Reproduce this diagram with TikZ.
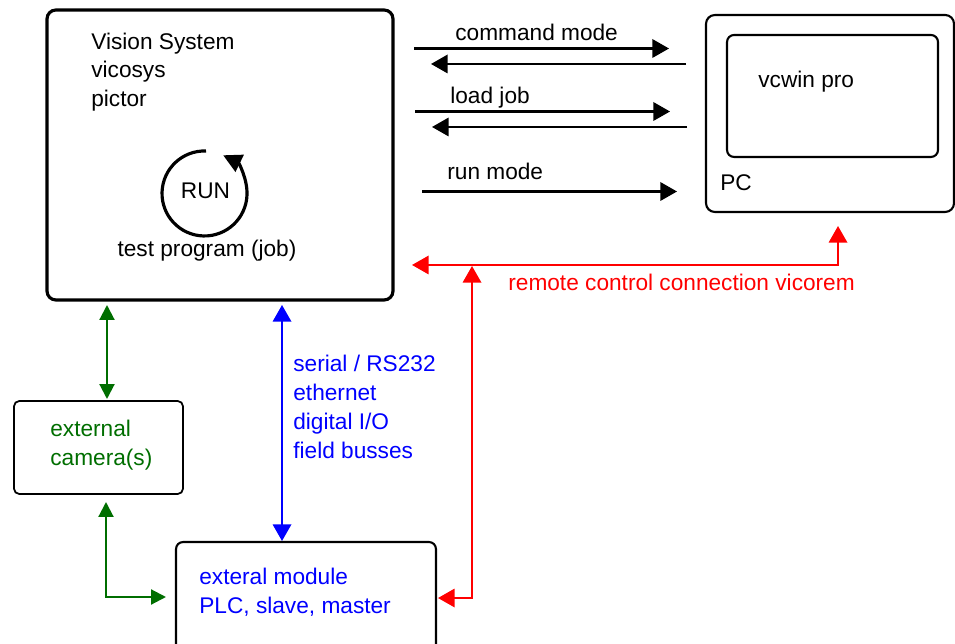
\documentclass[tikz,border=0pt]{standalone}
\usepackage{fontspec}
\setmainfont{Liberation Sans}
\usetikzlibrary{arrows.meta}
\definecolor{rcred}{RGB}{255,0,0}
\definecolor{ioblue}{RGB}{0,0,255}
\definecolor{camgreen}{RGB}{0,110,0}

\tikzset{
	box/.style={draw=black, line width=1.2pt, rounded corners=5pt, inner sep=0pt},
	lbl/.style={font=\fontsize{12.9pt}{16.4pt}\selectfont, inner sep=0pt, anchor=west, align=left},
	tip/.tip={Triangle[length=9.5pt, width=10.5pt]},
	smalltip/.tip={Triangle[length=8.5pt, width=8.5pt]},
	conn/.style={line width=1.2pt, -tip},
	both/.style={line width=1.2pt, tip-tip}
}

\begin{document}
\begin{tikzpicture}[x=0.02cm, y=-0.02cm]
			\useasboundingbox (0,0) rectangle (955,644);

			% Boxes
			\node[box, line width=1.8pt, minimum width=6.92cm, minimum height=5.8cm] (vis) at (220,155) {};
			\node[box, minimum width=4.96cm, minimum height=3.94cm] (pc) at (830,113.5) {};
			\node[box, rounded corners=4pt, minimum width=4.22cm, minimum height=2.44cm] (screen) at (832.5,96) {};
			\node[box, line width=1pt, rounded corners=3pt, minimum width=3.38cm, minimum height=1.86cm] (cam) at (98.5,447.5) {};
			\node[box, rounded corners=4pt, minimum width=5.2cm, minimum height=2.2cm] (module) at (306,597) {};

			% Texts in the boxes
			\node[lbl] (vistext) at (91,72) {Vision System\\vicosys\\pictor};
			\node[lbl, anchor=center] (run) at (205.5,191) {RUN};
			\node[lbl, anchor=center] (job) at (207,251) {test program (job)};
			\node[lbl] (vcwin) at (758,82) {vcwin pro};
			\node[lbl] (pctext) at (720,183) {PC};
			\node[lbl, camgreen] (camtext) at (50,445) {external\\camera(s)};
			\node[lbl, ioblue] (modtext) at (199,592) {exteral module\\PLC, slave, master};

			% RUN loop
			\draw[line width=1.8pt, -{Triangle[length=10.5pt, width=10.5pt]}] (206,151) arc[start angle=-88, end angle=-424, radius=42.5];

			% PC connection
			\coordinate (cm1) at (414,48.5);  \coordinate (cm2) at (669,48.5);
			\coordinate (cm3) at (686,64);    \coordinate (cm4) at (431,64);
			\coordinate (lj1) at (415,111.5); \coordinate (lj2) at (670,111.5);
			\coordinate (lj3) at (687,127);   \coordinate (lj4) at (432,127);
			\coordinate (rm1) at (422,191.5); \coordinate (rm2) at (677,191.5);
			\draw[conn] (cm1) -- (cm2);
			\draw[conn] (cm3) -- (cm4);
			\draw[conn] (lj1) -- (lj2);
			\draw[conn] (lj3) -- (lj4);
			\draw[conn] (rm1) -- (rm2);
			\node[lbl] (cmtext) at (455,32) {command mode};
			\node[lbl] (ljtext) at (450,98) {load job};
			\node[lbl] (rmtext) at (447,171) {run mode};

			% Remote control
			\coordinate (rcvis) at (412,265);
			\coordinate (rcpc) at (838,226);
			\coordinate (rcjoin) at (472,266);
			\coordinate (rcmod) at (438,598);
			\draw[both, rcred] (rcvis) -| (rcpc);
			\draw[both, rcred] (rcjoin) |- (rcmod);
			\node[lbl, rcred] (rctext) at (508,282) {remote control connection vicorem};

			% Interfaces
			\coordinate (iotop) at (282,305);
			\coordinate (iobot) at (282,541);
			\draw[both, ioblue] (iotop) -- (iobot);
			\node[lbl, ioblue] (iotext) at (293,407) {serial / RS232\\ethernet\\digital I/O\\field busses};

			% Cameras
			\coordinate (camtop) at (107,305);
			\coordinate (cambot) at (107,399);
			\coordinate (camlow) at (106,502);
			\coordinate (cammod) at (166,597);
			\draw[camgreen, line width=1.2pt, smalltip-smalltip] (camtop) -- (cambot);
			\draw[camgreen, line width=1.2pt, smalltip-smalltip] (camlow) |- (cammod);
		\end{tikzpicture}
\end{document}
